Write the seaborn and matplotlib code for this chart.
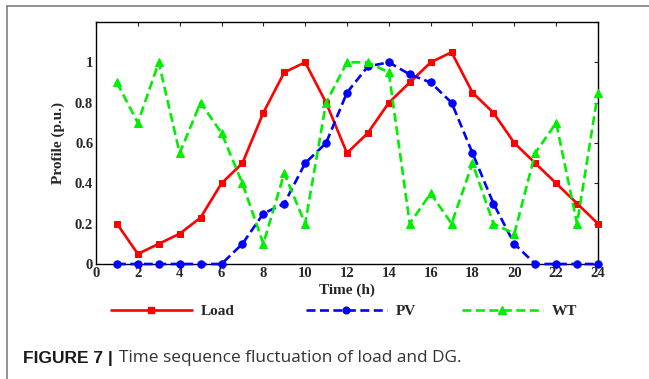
import matplotlib
matplotlib.use("Agg")
import matplotlib.pyplot as plt
import seaborn as sns
import pandas as pd
from matplotlib.lines import Line2D

hours = list(range(1, 25))
load = [0.2, 0.05, 0.1, 0.15, 0.23, 0.4, 0.5, 0.75, 0.95, 1.0, 0.8, 0.55,
        0.65, 0.8, 0.9, 1.0, 1.05, 0.85, 0.75, 0.6, 0.5, 0.4, 0.3, 0.2]
pv = [0, 0, 0, 0, 0, 0, 0.1, 0.25, 0.3, 0.5, 0.6, 0.85,
      0.98, 1.0, 0.94, 0.9, 0.8, 0.55, 0.3, 0.1, 0, 0, 0, 0]
wt = [0.9, 0.7, 1.0, 0.55, 0.8, 0.65, 0.4, 0.1, 0.45, 0.2, 0.8, 1.0,
      1.0, 0.95, 0.2, 0.35, 0.2, 0.5, 0.2, 0.15, 0.55, 0.7, 0.2, 0.85]
series_names = ["Load", "PV", "WT"]
xticks = list(range(0, 25, 2))
yticks = [0, 0.2, 0.4, 0.6, 0.8, 1.0]
ytick_labels = ["0", "0.2", "0.4", "0.6", "0.8", "1"]

sns.set_style("white")
plt.rcParams["font.family"] = ["Liberation Serif", "DejaVu Serif"]

fig = plt.figure(figsize=(6.49, 3.79), dpi=100)
ax = fig.add_axes([96 / 649, 1 - 264 / 379, (598 - 96) / 649, (264 - 22) / 379])

df = pd.DataFrame({"Time": hours * 3,
                   "Value": load + pv + wt,
                   "Series": [series_names[0]] * 24 + [series_names[1]] * 24 + [series_names[2]] * 24})

styles = {
    "Load": dict(color="#ff0000", marker="s", ls="-", ms=5),
    "PV": dict(color="#0000ff", marker="o", ls=(0, (3.4, 1.7)), ms=5.3),
    "WT": dict(color="#00ee00", marker="^", ls=(0, (3.4, 1.7)), ms=6),
}
for name in series_names:
    st = styles[name]
    sub = df[df["Series"] == name]
    sns.lineplot(data=sub, x="Time", y="Value", ax=ax, color=st["color"],
                 marker=st["marker"], markersize=st["ms"], markeredgecolor=st["color"],
                 linestyle=st["ls"], linewidth=1.9, legend=False, zorder=3,
                 clip_on=False)

ax.set_xlim(0, 24)
ax.set_ylim(0, 1.2)
ax.set_xticks(xticks)
ax.set_xticklabels([str(t) for t in xticks])
ax.set_yticks(yticks + [1.2])
ax.set_yticklabels(ytick_labels + [""])
for sp in ax.spines.values():
    sp.set_visible(True)
    sp.set_color("black")
    sp.set_linewidth(1.0)
ax.tick_params(direction="in", length=3, width=0.8, top=True, right=True,
               labelsize=10.5, pad=2)
for lab in ax.get_xticklabels() + ax.get_yticklabels():
    lab.set_fontweight("bold")
ax.set_xlabel("Time (h)", fontsize=11, fontweight="bold", labelpad=3)
ax.set_ylabel("Profile (p.u.)", fontsize=11, fontweight="bold", labelpad=7)

# legend entries placed individually
positions = [111, 306, 462]
for name, xp in zip(series_names, positions):
    st = styles[name]
    h2 = Line2D([0, 0.5, 1], [0, 0, 0], color=st["color"], marker=st["marker"],
                markersize=st["ms"] - 0.5, markeredgecolor=st["color"],
                linestyle=st["ls"], linewidth=1.9, markevery=[1])
    fig.legend([h2], [name], loc="center left",
               bbox_to_anchor=(xp / 649 - 0.012, 1 - 311 / 379),
               frameon=False, handlelength=5.3, handletextpad=0.6,
               prop={"family": "Liberation Serif", "weight": "bold", "size": 11},
               numpoints=1, borderpad=0)

# outer frame (top and left gray lines)
fig.add_artist(Line2D([7 / 649, 1], [1 - 6 / 379, 1 - 6 / 379], color="#808080", lw=1.2))
fig.add_artist(Line2D([7 / 649, 7 / 649], [0, 1 - 6 / 379], color="#808080", lw=1.2))

# caption
fig.text(23 / 649, 1 - 358 / 379, "FIGURE 7 |", fontsize=12.5, fontweight="bold",
         family="Liberation Sans", va="center", ha="left", color="#1a1a1a")
fig.text(119 / 649, 1 - 358 / 379, "Time sequence fluctuation of load and DG.", fontsize=12.4,
         family="Open Sans", va="center", ha="left", color="#333333")

fig.savefig("out.png", dpi=100)
